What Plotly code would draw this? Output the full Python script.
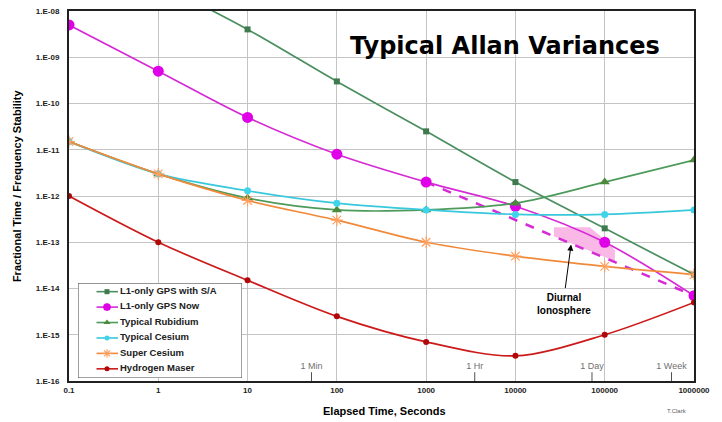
import numpy as np
import plotly.graph_objects as go

# ---------------- data ----------------
x_sa = [1, 10, 100, 1000, 10000, 100000, 1000000]
y_sa = [4e-8, 4e-9, 3e-10, 2.5e-11, 2e-12, 2e-13, 2e-14]

x_now = [0.1, 1, 10, 100, 1000, 10000, 100000, 1000000]
y_now = [5e-9, 5e-10, 5e-11, 8e-12, 2e-12, 6e-13, 1e-13, 7e-15]

x_std = [0.1, 1, 10, 100, 1000, 10000, 100000, 1000000]
y_rub = [1.5e-11, 3e-12, 9e-13, 5e-13, 5e-13, 7e-13, 2e-12, 6e-12]
y_ces = [1.5e-11, 3e-12, 1.3e-12, 7e-13, 5e-13, 4e-13, 4e-13, 5e-13]
y_sup = [1.5e-11, 3e-12, 8e-13, 3e-13, 1e-13, 5e-14, 3e-14, 2e-14]
y_mas = [1e-12, 1e-13, 1.5e-14, 2.5e-15, 7e-16, 3.5e-16, 1e-15, 5e-15]

x_dash = [1000, 1000000]
y_dash = [2e-12, 7e-15]

x_pink = [2.7e4, 6.8e4, 1.05e5, 1.3e5, 1.3e5, 2.7e4, 2.7e4]
y_pink = [2.1e-13, 2.1e-13, 1.05e-13, 6.7e-14, 3.9e-14, 1.35e-13, 2.1e-13]

names = ["L1-only GPS with S/A", "L1-only GPS Now", "Typical Rubidium",
         "Typical Cesium", "Super Cesium", "Hydrogen Maser"]

time_marks_x = [52, 3500, 72000, 560000]
time_marks_lbl = ["1 Min", "1 Hr", "1 Day", "1 Week"]

x_tickvals = [0.1, 1, 10, 100, 1000, 10000, 100000, 1000000]
x_ticktext = ["0.1", "1", "10", "100", "1000", "10000", "100000", "1000000"]
y_tickvals = [1e-16, 1e-15, 1e-14, 1e-13, 1e-12, 1e-11, 1e-10, 1e-9, 1e-8]
y_ticktext = ["1.E-16", "1.E-15", "1.E-14", "1.E-13", "1.E-12", "1.E-11",
              "1.E-10", "1.E-09", "1.E-08"]

FONT = "Liberation Sans, Arial, sans-serif"

fig = go.Figure()

# pink diurnal ionosphere band
fig.add_trace(go.Scatter(x=x_pink, y=y_pink, mode="lines", fill="toself",
                         fillcolor="#f9b8e6", line=dict(width=0),
                         showlegend=False, hoverinfo="skip"))
# dashed magenta
fig.add_trace(go.Scatter(x=x_dash, y=y_dash, mode="lines",
                         line=dict(color="#d62ad6", width=2.5, dash="dash"),
                         showlegend=False))

series = [
    (x_sa, y_sa, names[0], "#4a8f5f", "#3f7a4f", "square", 6),
    (x_now, y_now, names[1], "#d52ad5", "#e000e8", "circle", 11),
    (x_std, y_rub, names[2], "#4e9a5a", "#4a8a3a", "triangle-up", 9),
    (x_std, y_ces, names[3], "#38c8dc", "#40d4ea", "circle", 7),
    (x_std, y_sup, names[4], "#f08a3a", "#ffa060", "asterisk-open", 10),
    (x_std, y_mas, names[5], "#cc1a1a", "#b00808", "circle", 6),
]

# custom legend geometry (in a pixel-like overlay axis)
leg_x0, leg_x1, leg_ytop, leg_ybot = 78, 242, 282, 378
leg_row0, leg_step = 290.7, 15.6

for i, (xs, ys, nm, lc, mc, sym, sz) in enumerate(series):
    mk = dict(color=mc, size=sz, symbol=sym)
    if sym == "asterisk-open":
        mk["line"] = dict(color=mc, width=1.2)
    fig.add_trace(go.Scatter(x=xs, y=ys, name=nm, mode="lines+markers",
                             line=dict(color=lc, width=1.7, shape="spline", smoothing=0.9),
                             marker=mk, showlegend=False))
    # legend sample
    ry = leg_row0 + i * leg_step
    lmk = dict(mk)
    lmk["size"] = max(5, sz * 0.7)
    fig.add_trace(go.Scatter(x=[96.5, 107, 118], y=[ry, ry, ry], mode="lines+markers",
                             line=dict(color=lc, width=1.6), marker=lmk,
                             xaxis="x2", yaxis="y2", showlegend=False, hoverinfo="skip",
                             selectedpoints=[1], selected=dict(marker=dict(opacity=1)),
                             unselected=dict(marker=dict(opacity=0))))
    fig.add_trace(go.Scatter(x=[120], y=[ry], mode="text", text=[nm],
                             textposition="middle right",
                             textfont=dict(family=FONT, size=9.5, color="#202020", weight="bold"),
                             xaxis="x2", yaxis="y2", showlegend=False, hoverinfo="skip"))

# time marks on the x axis
for xv, lbl in zip(time_marks_x, time_marks_lbl):
    fig.add_trace(go.Scatter(x=[xv, xv], y=[1e-16, 1.55e-16], mode="lines",
                             line=dict(color="#505050", width=1),
                             showlegend=False, hoverinfo="skip"))
    fig.add_trace(go.Scatter(x=[xv], y=[2.0e-16], mode="text", text=[lbl],
                             textposition="middle center",
                             textfont=dict(family=FONT, size=9, color="#707070"),
                             showlegend=False, hoverinfo="skip"))

L, R, T, B, W, H = 69, 28, 7, 41, 722, 422
pw, ph = W - L - R, H - T - B

def px2paper_x(px):
    return (px - L) / pw

def px2paper_y(py):
    return (H - B - py) / ph

fig.update_layout(
    width=W, height=H,
    margin=dict(l=L, r=R, t=T, b=B),
    paper_bgcolor="white", plot_bgcolor="white",
    font=dict(family=FONT),
    showlegend=False,
    xaxis=dict(type="log", range=[-1, 6], tickvals=x_tickvals, ticktext=x_ticktext,
               showgrid=True, gridcolor="#c4c4c4", gridwidth=1,
               showline=True, linecolor="#202020", linewidth=2, mirror=True,
               ticks="", zeroline=False,
               tickfont=dict(family=FONT, size=8, color="#222", weight="bold")),
    yaxis=dict(type="log", range=[-16, -8], tickvals=y_tickvals, ticktext=y_ticktext,
               showgrid=True, gridcolor="#c4c4c4", gridwidth=1,
               showline=True, linecolor="#202020", linewidth=2, mirror=True,
               ticks="", zeroline=False, ticklabelstandoff=6,
               tickfont=dict(family=FONT, size=8, color="#222", weight="bold")),
    xaxis2=dict(domain=[px2paper_x(leg_x0), px2paper_x(leg_x1)], range=[leg_x0, leg_x1],
                anchor="y2", visible=False, fixedrange=True),
    yaxis2=dict(domain=[px2paper_y(leg_ybot), px2paper_y(leg_ytop)], range=[leg_ybot, leg_ytop],
                anchor="x2", visible=False, fixedrange=True),
    shapes=[
        dict(type="rect", xref="x2", yref="y2", x0=leg_x0, x1=leg_x1,
             y0=leg_ybot, y1=leg_ytop, fillcolor="white",
             line=dict(color="#404040", width=1), layer="below"),
    ],
    annotations=[
        dict(text="Typical Allan Variances", xref="paper", yref="paper",
             x=px2paper_x(505), y=px2paper_y(42), xanchor="center", yanchor="middle",
             showarrow=False,
             font=dict(family="DejaVu Sans", size=24, color="black", weight="bold")),
        dict(text="Fractional Time / Frequency Stability", xref="paper", yref="paper",
             x=px2paper_x(17), y=px2paper_y(184), xanchor="center", yanchor="middle",
             textangle=-90, showarrow=False,
             font=dict(family=FONT, size=11, color="black", weight="bold")),
        dict(text="Elapsed Time, Seconds", xref="paper", yref="paper",
             x=px2paper_x(384), y=px2paper_y(411), xanchor="center", yanchor="middle",
             showarrow=False,
             font=dict(family=FONT, size=11, color="black", weight="bold")),
        dict(text="T.Clark", xref="paper", yref="paper",
             x=px2paper_x(677), y=px2paper_y(411), xanchor="center", yanchor="middle",
             showarrow=False,
             font=dict(family=FONT, size=6, color="#606060")),
        dict(text="Diurnal<br>Ionosphere", xref="x", yref="y",
             x=np.log10(3.5e4), y=np.log10(4.7e-15), xanchor="center", yanchor="middle",
             showarrow=False,
             font=dict(family=FONT, size=10, color="black", weight="bold")),
        dict(text="", xref="x", yref="y", x=np.log10(4.2e4), y=np.log10(8.9e-14),
             showarrow=True, ax=-6, ay=45, arrowhead=2, arrowsize=1.2,
             arrowwidth=1, arrowcolor="black"),
    ],
)

fig.write_html("out.html", config={"displayModeBar": False},
               post_script="document.body.style.margin='0px';")
